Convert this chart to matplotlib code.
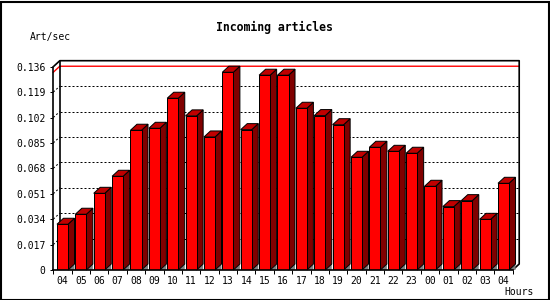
import numpy as np
import matplotlib
matplotlib.use("Agg")
import matplotlib.pyplot as plt
from matplotlib.patches import Polygon, Rectangle

# hourly incoming article rate
hours = ["04", "05", "06", "07", "08", "09", "10", "11", "12", "13", "14", "15",
         "16", "17", "18", "19", "20", "21", "22", "23", "00", "01", "02", "03", "04"]
rate = [0.0306, 0.0373, 0.0513, 0.0627, 0.0935, 0.0948, 0.1149, 0.1031, 0.0890,
        0.1323, 0.0939, 0.1303, 0.1303, 0.1082, 0.1033, 0.0972, 0.0754, 0.0821,
        0.0794, 0.0781, 0.0560, 0.0424, 0.0464, 0.0339, 0.0580]
yticks = [0, 0.017, 0.034, 0.051, 0.068, 0.085, 0.102, 0.119, 0.136]
ytick_labels = ["0", "0.017", "0.034", "0.051", "0.068", "0.085", "0.102", "0.119", "0.136"]

W, H = 550, 300
fig = plt.figure(figsize=(W / 100, H / 100), dpi=100)
fig.patch.set_facecolor("white")

# plot box (front plane) in pixels
x0, x1 = 53.3, 512.7
y0, y1 = 270.0, 66.7
ax = fig.add_axes([x0 / W, 1 - y0 / H, (x1 - x0) / W, (y0 - y1) / H])
ax.set_facecolor("none")
n = len(rate)
ymax = yticks[-1]
ax.set_xlim(-0.5, n - 0.5)
ax.set_ylim(0, ymax)

# depth of the 3d effect in data units
slot_px = (x1 - x0) / n
dx = 6.5 / slot_px
dy = 6.0 * ymax / (y0 - y1)

mono = "DejaVu Sans Mono"
px = 0.72  # one pixel in points

# back plane grid
for t in yticks[1:-1]:
    ax.plot([-0.5 + dx, n - 0.5 + dx], [t + dy, t + dy], color="black",
            lw=px, ls=(0, (2, 2)), zorder=1, clip_on=False)
    ax.plot([-0.5, -0.5 + dx], [t, t + dy], color="black",
            lw=px, ls=(0, (2, 2)), zorder=1, clip_on=False)

# max line
m = max(rate)
ax.plot([-0.5, -0.5 + dx, n - 0.5 + dx], [m, m + dy, m + dy], color="#ff0000",
        lw=1.0, zorder=1.5, clip_on=False)

# back frame
k = dict(color="black", lw=1.2, zorder=2, clip_on=False, solid_capstyle="butt")
ax.plot([-0.5, -0.5 + dx, n - 0.5 + dx, n - 0.5 + dx, n - 0.5],
        [ymax, ymax + dy, ymax + dy, dy, 0], **k)
ax.plot([-0.5 + dx, -0.5 + dx], [dy, ymax + dy], **k)

# bars
bw = 0.6
ec = dict(edgecolor="black", linewidth=px, clip_on=False)
for i, v in enumerate(rate):
    l, r = i - bw / 2, i + bw / 2
    ax.add_patch(Polygon([(r, 0), (r + dx, dy), (r + dx, 0)], closed=True,
                         facecolor="#808080", edgecolor="none", zorder=3, clip_on=False))
    ax.add_patch(Polygon([(r, 0), (r + dx, dy), (r + dx, v + dy), (r, v)], closed=True,
                         facecolor="#800000", zorder=4, **ec))
    ax.add_patch(Polygon([(l, v), (l + dx, v + dy), (r + dx, v + dy), (r, v)], closed=True,
                         facecolor="#c00000", zorder=4, **ec))
ax.bar(range(n), rate, width=bw, color="#ff0000", edgecolor="black",
       linewidth=px, zorder=5)

# front axes
for s in ["top", "right"]:
    ax.spines[s].set_visible(False)
for s in ["left", "bottom"]:
    ax.spines[s].set_linewidth(1.2)
    ax.spines[s].set_zorder(6)

ax.set_yticks(yticks)
ax.set_yticklabels(ytick_labels, fontfamily=mono, fontsize=7)
ax.tick_params(axis="y", direction="out", length=3 * px, width=px, pad=3.5)
ax.set_xticks(range(n))
ax.set_xticklabels(hours, fontfamily=mono, fontsize=7)
ax.set_xticks(np.arange(-0.5, n, 1), minor=True)
ax.tick_params(axis="x", which="major", length=0, pad=4)
ax.tick_params(axis="x", which="minor", direction="out", length=4 * px, width=px)

fig.text(274 / W, 1 - 27 / H, "Incoming articles", ha="center", va="center",
         fontfamily=mono, fontsize=8.3, fontweight="bold")
fig.text(30 / W, 1 - 37 / H, "Art/sec", ha="left", va="center",
         fontfamily=mono, fontsize=7)
fig.text(504 / W, 1 - 292 / H, "Hours", ha="left", va="center",
         fontfamily=mono, fontsize=7)

fig.patches.append(Rectangle((0.5 / W, 0.5 / H), 1 - 2 / W, 1 - 2 / H,
                             transform=fig.transFigure, fill=False,
                             edgecolor="black", linewidth=1.5))

fig.savefig("out.png", dpi=100)
